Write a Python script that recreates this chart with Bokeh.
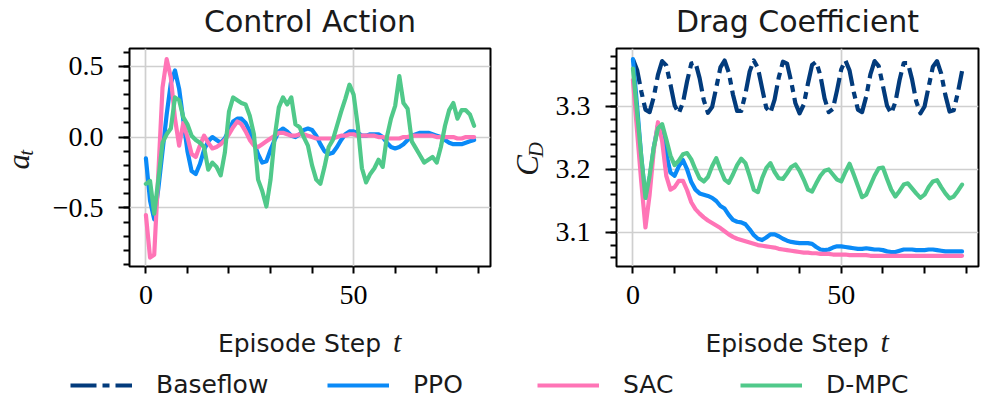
import math
from bokeh.plotting import figure
from bokeh.models import Range1d, FixedTicker, Label, Legend, LegendItem
from bokeh.layouts import row, column
from bokeh.embed import file_html
from bokeh.resources import INLINE

# ---------------- data ----------------
steps = list(range(80))
series_names = ["Baseflow", "PPO", "SAC", "D-MPC"]

action_ppo = [-0.15, -0.45, -0.58, -0.36, -0.10, 0.16, 0.38, 0.47, 0.34, 0.12,
              -0.10, -0.24, -0.26, -0.19, -0.09, -0.03, 0.00, -0.02, -0.04, -0.01,
              0.05, 0.11, 0.13, 0.13, 0.10, 0.04, -0.04, -0.12, -0.18, -0.17,
              -0.09, -0.02, 0.04, 0.06, 0.04, 0.01, 0.00, 0.02, 0.05, 0.06,
              0.05, 0.01, -0.05, -0.10, -0.12, -0.11, -0.07, -0.02, 0.02, 0.04,
              0.04, 0.03, 0.01, 0.01, 0.02, 0.02, 0.02, 0.00, -0.04, -0.07,
              -0.08, -0.07, -0.05, -0.02, 0.01, 0.02, 0.03, 0.03, 0.03, 0.02,
              0.01, 0.00, -0.02, -0.04, -0.05, -0.05, -0.05, -0.04, -0.03, -0.02]

action_sac = [-0.55, -0.85, -0.83, -0.25, 0.35, 0.55, 0.42, 0.13, -0.06, 0.10,
              0.00, -0.12, -0.14, -0.06, 0.01, -0.04, -0.08, -0.07, -0.05, -0.02,
              0.02, 0.07, 0.11, 0.09, 0.04, -0.02, -0.06, -0.07, -0.05, -0.03,
              -0.01, 0.01, 0.03, 0.03, 0.02, 0.01, 0.01, 0.02, 0.02, 0.01,
              0.00, -0.01, -0.01, -0.01, -0.01, -0.01, 0.00, 0.01, 0.01, 0.02,
              0.02, 0.01, 0.01, 0.01, 0.01, 0.01, 0.00, 0.00, -0.01, -0.01,
              -0.01, -0.01, 0.00, 0.00, 0.01, 0.01, 0.01, 0.01, 0.01, 0.01,
              0.00, 0.00, 0.00, 0.00, 0.00, -0.01, -0.01, 0.00, 0.00, 0.00]

action_dmpc = [-0.33, -0.31, -0.54, -0.30, -0.04, 0.02, 0.06, 0.28, 0.26, 0.14,
               0.09, 0.01, -0.02, -0.04, -0.07, -0.23, -0.18, -0.21, -0.27, -0.11,
               0.18, 0.28, 0.26, 0.24, 0.23, 0.15, 0.02, -0.30, -0.38, -0.49,
               -0.30, 0.00, 0.21, 0.28, 0.23, 0.28, 0.09, 0.07, 0.00, -0.06,
               -0.20, -0.30, -0.33, -0.21, -0.07, -0.02, 0.08, 0.18, 0.27, 0.37,
               0.30, 0.08, -0.22, -0.32, -0.26, -0.22, -0.16, -0.21, 0.00, 0.13,
               0.22, 0.43, 0.24, 0.20, -0.03, -0.08, -0.13, -0.18, -0.16, -0.14,
               -0.18, -0.07, 0.08, 0.19, 0.24, 0.13, 0.19, 0.19, 0.16, 0.08]

cd_base = [3.375, 3.358, 3.324, 3.295, 3.291, 3.315, 3.350, 3.372, 3.365, 3.335,
           3.302, 3.289, 3.306, 3.340, 3.368, 3.370, 3.345, 3.310, 3.290, 3.299,
           3.330, 3.362, 3.373, 3.354, 3.319, 3.293, 3.293, 3.320, 3.355, 3.373,
           3.361, 3.329, 3.298, 3.290, 3.311, 3.346, 3.371, 3.368, 3.339, 3.305,
           3.289, 3.303, 3.336, 3.366, 3.371, 3.349, 3.313, 3.291, 3.296, 3.326,
           3.359, 3.373, 3.357, 3.323, 3.295, 3.291, 3.316, 3.351, 3.372, 3.364,
           3.333, 3.301, 3.289, 3.307, 3.342, 3.369, 3.369, 3.343, 3.308, 3.289,
           3.300, 3.332, 3.363, 3.372, 3.352, 3.318, 3.292, 3.294, 3.322, 3.356]

cd_ppo = [3.375, 3.300, 3.220, 3.155, 3.185, 3.235, 3.270, 3.268, 3.225, 3.195,
          3.190, 3.205, 3.215, 3.200, 3.180, 3.168, 3.162, 3.160, 3.158, 3.155,
          3.150, 3.142, 3.138, 3.128, 3.120, 3.117, 3.116, 3.113, 3.105, 3.096,
          3.090, 3.088, 3.092, 3.097, 3.097, 3.094, 3.090, 3.087, 3.085, 3.084,
          3.083, 3.083, 3.083, 3.082, 3.077, 3.073, 3.072, 3.073, 3.076, 3.078,
          3.078, 3.077, 3.076, 3.075, 3.074, 3.074, 3.075, 3.074, 3.073, 3.073,
          3.072, 3.070, 3.069, 3.069, 3.071, 3.073, 3.073, 3.073, 3.072, 3.072,
          3.072, 3.073, 3.073, 3.072, 3.071, 3.070, 3.070, 3.070, 3.070, 3.070]

cd_sac = [3.342, 3.260, 3.180, 3.108, 3.160, 3.230, 3.275, 3.245, 3.190, 3.168,
          3.172, 3.182, 3.182, 3.167, 3.148, 3.137, 3.130, 3.124, 3.119, 3.115,
          3.111, 3.107, 3.102, 3.097, 3.093, 3.090, 3.088, 3.086, 3.084, 3.082,
          3.080, 3.079, 3.078, 3.077, 3.076, 3.074, 3.073, 3.072, 3.071, 3.070,
          3.069, 3.068, 3.068, 3.067, 3.067, 3.066, 3.066, 3.066, 3.065, 3.065,
          3.065, 3.065, 3.064, 3.064, 3.064, 3.064, 3.064, 3.063, 3.063, 3.063,
          3.063, 3.063, 3.063, 3.063, 3.063, 3.063, 3.063, 3.063, 3.063, 3.063,
          3.063, 3.063, 3.063, 3.063, 3.063, 3.063, 3.063, 3.063, 3.063, 3.063]

cd_dmpc = [3.360, 3.290, 3.220, 3.155, 3.190, 3.235, 3.265, 3.272, 3.248, 3.222,
           3.207, 3.214, 3.224, 3.226, 3.216, 3.200, 3.186, 3.181, 3.188, 3.205,
           3.218, 3.200, 3.184, 3.179, 3.192, 3.207, 3.217, 3.210, 3.190, 3.168,
           3.164, 3.186, 3.202, 3.210, 3.196, 3.186, 3.185, 3.194, 3.204, 3.208,
           3.198, 3.184, 3.168, 3.165, 3.178, 3.190, 3.198, 3.200, 3.192, 3.184,
           3.181, 3.196, 3.209, 3.192, 3.174, 3.156, 3.160, 3.175, 3.190, 3.202,
           3.203, 3.185, 3.168, 3.157, 3.166, 3.176, 3.178, 3.170, 3.162, 3.155,
           3.160, 3.172, 3.181, 3.183, 3.172, 3.162, 3.154, 3.157, 3.166, 3.176]

titles = ["Control Action", "Drag Coefficient"]
x_label = "Episode Step"
x_label_var = "t"
y_label_syms = [("a", "t"), ("C", "D")]

x_ticks = [0, 10, 20, 30, 40, 50, 60, 70, 80]
x_tick_labels = {0: "0", 50: "50"}
x_grid = [0, 50]
a_ticks = [-0.5, 0.0, 0.5]
a_tick_labels = {-0.5: "\u22120.5", 0.0: "0.0", 0.5: "0.5"}
a_minor = [-0.9, -0.8, -0.7, -0.6, -0.5, -0.4, -0.3, -0.2, -0.1, 0.0, 0.1, 0.2, 0.3, 0.4, 0.5, 0.6]
cd_ticks = [3.1, 3.2, 3.3]
cd_tick_labels = {3.1: "3.1", 3.2: "3.2", 3.3: "3.3"}
cd_minor = [3.06, 3.08, 3.10, 3.12, 3.14, 3.16, 3.18, 3.20, 3.22, 3.24, 3.26, 3.28,
            3.30, 3.32, 3.34, 3.36, 3.38]

# ---------------- style / layout ----------------
COLORS = {"Baseflow": "#023b7c", "PPO": "#0a8af7", "SAC": "#ff74b6", "D-MPC": "#50c98a"}
LW = 4.2
DASH = "26 6 7 6"
SANS = "DejaVu Sans"
SERIF = "Liberation Serif"
TXT = "#1a1a1a"
MID = 0.34  # distance (in em) from the alphabetic baseline up to the "middle" anchor
ROT_FIX = 20  # measured extra shift needed by the rotated labels

X_RANGE = (-3.95, 82.95)
A_RANGE = (-0.913, 0.625)
CD_RANGE = (3.046, 3.392)

TOTAL_W = 996
TITLE_H = 40
ROW_H = 276
XLAB_H = 42
LEG_H = 41
FRAME_TOP = 8
FRAME_H = 218

YLAB1_W, P1_W, P1_BL, P1_BR = 40, 458, 89, 8
YLAB2_W, P2_W, P2_BL, P2_BR = 52, 446, 66, 18


def strip(w, h):
    s = figure(width=w, height=h, x_range=Range1d(0, w), y_range=Range1d(h, 0),
               output_backend="svg", toolbar_location=None, min_border=0)
    s.outline_line_color = None
    s.axis.visible = False
    s.grid.visible = False
    s.background_fill_color = "white"
    s.border_fill_color = "white"
    return s


def flat_label(s, x, baseline, text, font, size, align, style="normal"):
    s.add_layout(Label(x=x, y=baseline - MID * size, text=text, text_font=font,
                       text_font_style=style, text_font_size=f"{size}px", text_align=align,
                       text_baseline="middle", text_color=TXT))


def up_label(s, baseline_x, center_y, text, size):
    s.add_layout(Label(x=baseline_x - MID * size, y=center_y + ROT_FIX, text=text,
                       angle=math.pi / 2, text_font=SERIF, text_font_style="italic",
                       text_font_size=f"{size}px", text_align="center",
                       text_baseline="middle", text_color=TXT))


def make_fig(w, b_left, b_right, yr, yticks, yminor, ylabels):
    p = figure(width=w, height=ROW_H, x_range=Range1d(*X_RANGE), y_range=Range1d(*yr),
               output_backend="svg", toolbar_location=None,
               min_border_left=b_left, min_border_right=b_right,
               min_border_top=FRAME_TOP, min_border_bottom=ROW_H - FRAME_TOP - FRAME_H)
    p.outline_line_color = "black"
    p.outline_line_width = 2
    p.background_fill_color = "white"
    p.border_fill_color = "white"

    xa = p.xaxis[0]
    xa.ticker = FixedTicker(ticks=x_ticks)
    xa.major_label_overrides = {t: x_tick_labels.get(t, "") for t in x_ticks}
    xa.major_tick_out = 7
    xa.major_tick_in = 0
    xa.minor_tick_out = 0
    xa.minor_tick_in = 0
    xa.major_tick_line_width = 2
    xa.axis_line_color = None
    xa.major_label_text_font = SERIF
    xa.major_label_text_font_size = "28px"
    xa.major_label_text_color = "black"
    xa.major_label_standoff = 12

    ya = p.yaxis[0]
    ya.ticker = FixedTicker(ticks=yticks, minor_ticks=yminor)
    ya.major_label_overrides = ylabels
    ya.major_tick_out = 11
    ya.major_tick_in = 0
    ya.minor_tick_out = 6
    ya.minor_tick_in = 0
    ya.major_tick_line_width = 2
    ya.minor_tick_line_width = 2
    ya.minor_tick_line_color = "black"
    ya.axis_line_color = None
    ya.major_label_text_font = SERIF
    ya.major_label_text_font_size = "28px"
    ya.major_label_text_color = "black"
    ya.major_label_standoff = 15

    p.xgrid.ticker = FixedTicker(ticks=x_grid)
    p.ygrid.ticker = FixedTicker(ticks=yticks)
    for g in (p.xgrid[0], p.ygrid[0]):
        g.grid_line_color = "#cfcfcf"
        g.grid_line_width = 1.7
    return p


# ---------------- plots ----------------
p1 = make_fig(P1_W, P1_BL, P1_BR, A_RANGE, a_ticks, a_minor, a_tick_labels)
for name, ys in (("PPO", action_ppo), ("SAC", action_sac), ("D-MPC", action_dmpc)):
    p1.line(steps, ys, line_color=COLORS[name], line_width=LW, line_join="round", line_cap="round")

p2 = make_fig(P2_W, P2_BL, P2_BR, CD_RANGE, cd_ticks, cd_minor, cd_tick_labels)
p2.line(steps, cd_base, line_color=COLORS["Baseflow"], line_width=LW, line_dash=DASH, line_join="round")
for name, ys in (("PPO", cd_ppo), ("SAC", cd_sac), ("D-MPC", cd_dmpc)):
    p2.line(steps, ys, line_color=COLORS[name], line_width=LW, line_join="round", line_cap="round")

# frame centres in page pixels
c1 = YLAB1_W + P1_BL + (P1_W - P1_BL - P1_BR) / 2
c2 = YLAB1_W + P1_W + YLAB2_W + P2_BL + (P2_W - P2_BL - P2_BR) / 2

# ---------------- title strip ----------------
st = strip(TOTAL_W, TITLE_H)
for cx, title in zip((c1, c2), titles):
    flat_label(st, cx, 31, title, SANS, 30, "center")

# ---------------- y-label strips (local pixel coordinates) ----------------
ylab1 = strip(YLAB1_W, ROW_H)
ylab2 = strip(YLAB2_W, ROW_H)
up_label(ylab1, 29, 123.5, y_label_syms[0][0], 31)
up_label(ylab1, 33, 112, y_label_syms[0][1], 21)
up_label(ylab2, 40, 128, y_label_syms[1][0], 31)
up_label(ylab2, 45, 108, y_label_syms[1][1], 21)

# ---------------- x-label strip ----------------
sx_ = strip(TOTAL_W, XLAB_H)
for cx in (c1, c2):
    flat_label(sx_, cx + 71, 35, x_label, SANS, 25, "right")
    flat_label(sx_, cx + 83, 35, x_label_var, SERIF, 30, "left", "italic")

# ---------------- legend strip ----------------
pl = figure(width=TOTAL_W, height=LEG_H, x_range=Range1d(-1000, -900), y_range=Range1d(0, 1),
            output_backend="svg", toolbar_location=None, min_border=0)
pl.outline_line_color = None
pl.axis.visible = False
pl.grid.visible = False
legend_x = {"Baseflow": 70, "PPO": 327, "SAC": 537, "D-MPC": 740}
legend_data = {"Baseflow": cd_base, "PPO": cd_ppo, "SAC": cd_sac, "D-MPC": cd_dmpc}
for name in series_names:
    kw = dict(line_dash=DASH) if name == "Baseflow" else {}
    r = pl.line(steps, legend_data[name], line_color=COLORS[name], line_width=LW, **kw)
    lg = Legend(items=[LegendItem(label=name, renderers=[r])], location=(legend_x[name], 0),
                orientation="horizontal", glyph_width=62, glyph_height=26, label_height=26,
                label_standoff=24, padding=0, margin=0, border_line_alpha=0,
                background_fill_alpha=0, label_text_font=SANS, label_text_font_size="25px",
                label_text_color=TXT)
    pl.add_layout(lg)

layout = column(st, row(ylab1, p1, ylab2, p2), sx_, pl)
open("out.html", "w").write(file_html(layout, INLINE))
